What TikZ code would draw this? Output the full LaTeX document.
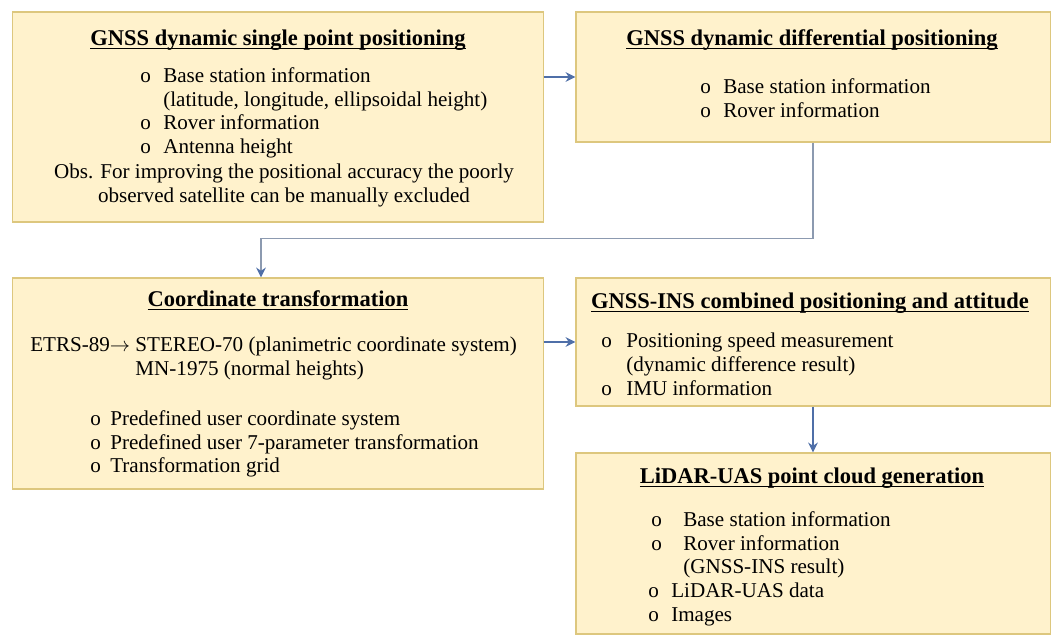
\documentclass[tikz,border=0pt]{standalone}
\usepackage{fontspec}
\setmainfont{Liberation Serif}
\usetikzlibrary{arrows.meta,positioning,calc}
\definecolor{boxfill}{HTML}{FFF2CC}
\definecolor{boxline}{HTML}{DDC77E}
\definecolor{arrowblue}{HTML}{4F6FA8}
\definecolor{linegray}{HTML}{8C9AB0}
\newcommand{\bul}[1][0.575cm]{\makebox[#1][l]{o}}
\newcommand{\headline}[1]{\setbox0\hbox{#1}\rlap{\rule[-2.5pt]{\wd0}{0.7pt}}\box0}
\tikzset{
  stagebox/.style={draw=boxline,fill=boxfill,line width=0.8pt,inner sep=0pt},
  stagetitle/.style={font=\fontsize{16}{17}\selectfont\bfseries,inner sep=0pt},
  itemtext/.style={font=\fontsize{15}{17}\selectfont,align=left,anchor=north west,inner sep=0pt},
  arr/.style={-{Stealth[length=7pt,width=7pt]},draw=arrowblue,line width=0.8pt},
  elbow/.style={-{Stealth[length=7pt,width=7pt,color=arrowblue]},draw=linegray,line width=0.8pt},
}

\begin{document}
\begin{tikzpicture}[x=0.025cm,y=-0.025cm]
  \useasboundingbox (0,0) rectangle (1054,637);

  % boxes
  \node[stagebox,minimum width=13.25cm,minimum height=5.25cm] (single) at (278,117) {};
  \node[stagebox,minimum width=11.85cm,minimum height=3.25cm] (diff) at (813,77) {};
  \node[stagebox,minimum width=13.25cm,minimum height=5.275cm] (coord) at (278,383.5) {};
  \node[stagebox,minimum width=11.85cm,minimum height=3.2cm] (ins) at (813,342) {};
  \node[stagebox,minimum width=11.85cm,minimum height=4.525cm] (lidar) at (813,543.5) {};

  % GNSS single point
  \node[stagetitle] (single-t) at (278,40) {\headline{GNSS dynamic single point positioning}};
  \node[itemtext] (single-list) at (140,67) {\bul Base station information\\
    \hspace*{0.575cm}(latitude, longitude, ellipsoidal height)\\
    \bul Rover information\\
    \bul Antenna height};
  \node[itemtext,anchor=north,align=center] (single-obs) at (284,164) {Obs. For improving the positional accuracy the poorly\\
    observed satellite can be manually excluded};

  % GNSS differential
  \node[stagetitle] (diff-t) at (812,40) {\headline{GNSS dynamic differential positioning}};
  \node[itemtext] (diff-list) at (700,78) {\bul Base station information\\
    \bul Rover information};

  % coordinate transformation
  \node[stagetitle] (coord-t) at (278,300) {\headline{Coordinate transformation}};
  \node[itemtext] (coord-sys) at (30,337) {ETRS-89$\rightarrow$ STEREO-70 (planimetric coordinate system)\\
    \hphantom{ETRS-89$\rightarrow$ }MN-1975 (normal heights)};
  \node[itemtext] (coord-list) at (90,410) {\bul[0.5cm]Predefined user coordinate system\\
    \bul[0.5cm]Predefined user 7-parameter transformation\\
    \bul[0.5cm]Transformation grid};

  % GNSS-INS
  \node[stagetitle] (ins-t) at (810,303) {\headline{GNSS-INS combined positioning and attitude}};
  \node[itemtext] (ins-list) at (601,333) {\bul[0.625cm]Positioning speed measurement\\
    \hspace*{0.625cm}(dynamic difference result)\\
    \bul[0.625cm]IMU information};

  % LiDAR-UAS
  \node[stagetitle] (lidar-t) at (812,478) {\headline{LiDAR-UAS point cloud generation}};
  \node[itemtext] (lidar-list) at (648,511) {\hspace*{0.075cm}\bul[0.8cm]Base station information\\
    \hspace*{0.075cm}\bul[0.8cm]Rover information\\
    \hspace*{0.875cm}(GNSS-INS result)\\
    \bul LiDAR-UAS data\\
    \bul Images};

  \draw[arr] (single.east |- diff.west) -- (diff.west);
  \draw[elbow] (diff.south) -- ++(0,96) -| ([xshift=-0.425cm]coord.north);
  \draw[arr] (coord.east |- ins.west) -- (ins.west);
  \draw[arr] (ins.south) -- (lidar.north);
\end{tikzpicture}
\end{document}
